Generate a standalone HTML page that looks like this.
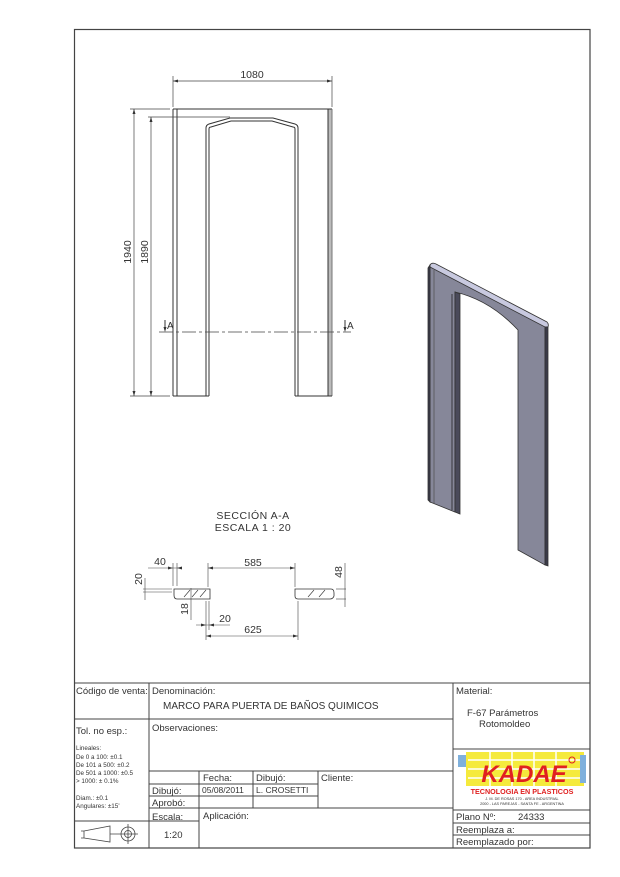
<!DOCTYPE html>
<html><head><meta charset="utf-8"><style>
html,body{margin:0;padding:0;background:#fff}
svg{display:block}
text{font-family:"Liberation Sans",sans-serif;fill:#333}
</style></head><body>
<svg width="620" height="877" viewBox="0 0 620 877" xmlns="http://www.w3.org/2000/svg">
<rect x="0" y="0" width="620" height="877" fill="#fff"/>
<rect x="74.5" y="29.5" width="515.5" height="818.5" fill="none" stroke="#444" stroke-width="1.2"/>

<g stroke="#333" stroke-width="1" fill="none">
 <rect x="328" y="109" width="4" height="287" fill="#bbb" stroke="none"/>
 <line x1="173" y1="109" x2="332" y2="109"/>
 <line x1="173" y1="109" x2="173" y2="396"/>
 <line x1="177" y1="109" x2="177" y2="396"/>
 <line x1="328" y1="109" x2="328" y2="396"/>
 <line x1="332" y1="109" x2="332" y2="396" stroke="#777"/>
 <line x1="173" y1="396" x2="209" y2="396"/>
 <line x1="295" y1="396" x2="332" y2="396"/>
 <path d="M206 396 V128 Q206 125 209 124 L230 118 H273 L295 124 Q298 125 298 128 V396"/>
 <path d="M209 396 V129 Q209 127 211 127 L231 121 H272 L293 127 Q295 127 295 129 V396"/>
</g>
<g stroke="#444" stroke-width="0.7" fill="none">
 <line x1="173" y1="107" x2="173" y2="76"/>
 <line x1="332" y1="107" x2="332" y2="76"/>
 <line x1="173" y1="81" x2="332" y2="81"/>
 <line x1="130" y1="109" x2="170" y2="109"/>
 <line x1="130" y1="396" x2="170" y2="396"/>
 <line x1="134" y1="109" x2="134" y2="396"/>
 <line x1="148" y1="117" x2="230" y2="117"/>
 <line x1="151" y1="117" x2="151" y2="396"/>
 <line x1="159" y1="332" x2="351" y2="332" stroke-dasharray="14,3,3,3"/>
</g>
<g fill="#333">
 <path d="M173 81 l5 -1.5 v3z M332 81 l-5 -1.5 v3z"/>
 <path d="M134 109 l-1.5 5 h3z M134 396 l-1.5 -5 h3z"/>
 <path d="M151 117 l-1.5 5 h3z M151 396 l-1.5 -5 h3z"/>
 <path d="M165 332 l-1.5 -5 h3z"/>
 <path d="M345 332 l-1.5 -5 h3z"/>
</g>
<line x1="165" y1="320" x2="165" y2="330" stroke="#333"/>
<line x1="345" y1="320" x2="345" y2="330" stroke="#333"/>
<text x="252" y="78" font-size="10.5" text-anchor="middle">1080</text>
<text x="167" y="329" font-size="10">A</text>
<text x="347" y="329" font-size="10">A</text>
<text transform="translate(131,252) rotate(-90)" font-size="10.5" text-anchor="middle">1940</text>
<text transform="translate(148,252) rotate(-90)" font-size="10.5" text-anchor="middle">1890</text>

<text x="253" y="519" font-size="10.5" text-anchor="middle" letter-spacing="0.5">SECCIÓN A-A</text>
<text x="253" y="531" font-size="10.5" text-anchor="middle" letter-spacing="0.5">ESCALA 1 : 20</text>
<g stroke="#333" stroke-width="0.8" fill="none">
 <path d="M174 589 H210 V599 H177 Q174 599 174 595 Z"/>
 <path d="M295 589 H331 Q334 589 334 593 V596 Q333 599 330 599 H298 Q295 599 295 596 Z"/>
 <path d="M184 597 l6 -7 M192 597 l6 -7 M200 597 l6 -7 M308 597 l6 -7 M319 597 l6 -7" stroke-width="0.6"/>
</g>
<g stroke="#444" stroke-width="0.6" fill="none">
 <line x1="148" y1="568" x2="180" y2="568"/>
 <line x1="173" y1="563" x2="173" y2="586"/>
 <line x1="177" y1="563" x2="177" y2="586"/>
 <line x1="208" y1="568" x2="295" y2="568"/>
 <line x1="208" y1="563" x2="208" y2="587"/>
 <line x1="295" y1="563" x2="295" y2="587"/>
 <line x1="145" y1="578" x2="145" y2="600"/>
 <line x1="143" y1="589" x2="172" y2="589"/>
 <line x1="143" y1="592" x2="172" y2="592"/>
 <line x1="191" y1="588" x2="191" y2="620"/>
 <line x1="206" y1="601" x2="206" y2="640"/>
 <line x1="209" y1="601" x2="209" y2="630"/>
 <line x1="196" y1="625" x2="230" y2="625"/>
 <line x1="298" y1="601" x2="298" y2="640"/>
 <line x1="206" y1="636" x2="298" y2="636"/>
 <line x1="336" y1="589" x2="346" y2="589"/>
 <line x1="336" y1="599" x2="346" y2="599"/>
 <line x1="345" y1="563" x2="345" y2="607"/>
</g>
<g fill="#333">
 <path d="M173 568 l-5 -1.5 v3z M177 568 l5 -1.5 v3z M208 568 l5 -1.5 v3z M295 568 l-5 -1.5 v3z"/>
 <path d="M206 636 l5 -1.5 v3z M298 636 l-5 -1.5 v3z M206 625 l-5 -1.5 v3z M209 625 l5 -1.5 v3z"/>
</g>
<text x="160" y="565" font-size="10.5" text-anchor="middle">40</text>
<text x="253" y="566" font-size="10.5" text-anchor="middle">585</text>
<text x="225" y="622" font-size="10.5" text-anchor="middle">20</text>
<text x="253" y="633" font-size="10.5" text-anchor="middle">625</text>
<text transform="translate(142,579) rotate(-90)" font-size="10.5" text-anchor="middle">20</text>
<text transform="translate(188,609) rotate(-90)" font-size="10.5" text-anchor="middle">18</text>
<text transform="translate(342,572) rotate(-90)" font-size="10.5" text-anchor="middle">48</text>

<g stroke="#333" stroke-width="0.8">
 <path d="M430 265 L545 325 L545 565 L518 550 L518 330 Q490 300 455 292 L455 512 L430 502 Z" fill="#868799"/>
 <path d="M430 265 Q432 262 436 264 L547 322 Q549 324 548 327 L545 327 L430 267 Z" fill="#c8c9df"/>
 <path d="M545 327 L548 327 L548 566 L545 565 Z" fill="#3a3a48"/>
 <path d="M428 268 L430 265 L430 502 L428 500 Z" fill="#3a3a48"/>
 <path d="M455 292 L460 294 L460 514 L455 512 Z" fill="#4a4a5a"/>
 <line x1="452" y1="294" x2="452" y2="510" stroke="#222"/>
 <line x1="434" y1="270" x2="434" y2="503" stroke="#555"/>
</g>

<g stroke="#444" stroke-width="1" fill="none">
 <line x1="74" y1="683" x2="590" y2="683"/>
 <line x1="149" y1="683" x2="149" y2="848"/>
 <line x1="453" y1="683" x2="453" y2="848"/>
 <line x1="74" y1="719" x2="453" y2="719"/>
 <line x1="453" y1="749" x2="590" y2="749"/>
 <line x1="453" y1="810" x2="590" y2="810"/>
 <line x1="453" y1="823" x2="590" y2="823"/>
 <line x1="453" y1="835" x2="590" y2="835"/>
 <line x1="149" y1="771" x2="453" y2="771"/>
 <line x1="149" y1="784" x2="318" y2="784"/>
 <line x1="149" y1="796" x2="318" y2="796"/>
 <line x1="149" y1="808" x2="453" y2="808"/>
 <line x1="74" y1="821" x2="199" y2="821"/>
 <line x1="199" y1="771" x2="199" y2="848"/>
 <line x1="253" y1="771" x2="253" y2="808"/>
 <line x1="318" y1="771" x2="318" y2="808"/>
 <path d="M81 831 H84 L110 826 V842 L84 838 H81 M84 831 V838 M110 834 H118" stroke-width="0.8"/>
 <circle cx="128" cy="834" r="7" stroke-width="0.8"/>
 <circle cx="128" cy="834" r="3.5" stroke-width="0.8"/>
 <path d="M118 834 H138 M128 824 V844" stroke-width="0.8"/>
</g>
<g font-size="9.5">
 <text x="76" y="694">Código de venta:</text>
 <text x="152" y="694">Denominación:</text>
 <text x="163" y="709" font-size="10">MARCO PARA PUERTA DE BAÑOS QUIMICOS</text>
 <text x="456" y="694">Material:</text>
 <text x="467" y="716">F-67 Parámetros</text>
 <text x="479" y="727">Rotomoldeo</text>
 <text x="76" y="734">Tol. no esp.:</text>
 <text x="152" y="731">Observaciones:</text>
 <text x="203" y="781">Fecha:</text>
 <text x="256" y="781">Dibujó:</text>
 <text x="321" y="781">Cliente:</text>
 <text x="152" y="794">Dibujó:</text>
 <text x="202" y="793" font-size="8.5">05/08/2011</text>
 <text x="256" y="793" font-size="8.5">L. CROSETTI</text>
 <text x="152" y="806">Aprobó:</text>
 <text x="152" y="820">Escala:</text>
 <text x="203" y="819">Aplicación:</text>
 <text x="164" y="838">1:20</text>
 <text x="456" y="820">Plano Nº:</text>
 <text x="518" y="820">24333</text>
 <text x="456" y="833">Reemplaza a:</text>
 <text x="456" y="845">Reemplazado por:</text>
</g>
<g font-size="6.3">
 <text x="76" y="750">Lineales:</text>
 <text x="76" y="759">De 0 a 100: ±0.1</text>
 <text x="76" y="767">De 101 a 500: ±0.2</text>
 <text x="76" y="775">De 501 a 1000: ±0.5</text>
 <text x="76" y="783">&gt; 1000: ± 0.1%</text>
 <text x="76" y="800">Diam.: ±0.1</text>
 <text x="76" y="808">Angulares: ±15'</text>
</g>
<rect x="466" y="752" width="118" height="34" fill="#f5ea3c"/>
<path d="M468 760 H582 M468 769 H582 M468 778 H582 M490 752 V786 M512 752 V786 M534 752 V786 M556 752 V786" stroke="#fff" stroke-width="1.5"/>
<rect x="458" y="755" width="8" height="12" fill="#7fb0dc"/>
<rect x="580" y="755" width="6" height="28" fill="#7fb0dc"/>
<text x="524" y="782" font-size="24" font-weight="bold" font-style="italic" text-anchor="middle" style="fill:#e02020">KADAE</text>
<circle cx="572" cy="760" r="3" fill="none" stroke="#e02020"/>
<text x="522" y="794" font-size="7.2" font-weight="bold" text-anchor="middle" style="fill:#e02020">TECNOLOGIA EN PLASTICOS</text>
<text x="522" y="800" font-size="3.8" text-anchor="middle">J. M. DE ROSAS 170 - AREA INDUSTRIAL</text>
<text x="522" y="805" font-size="3.8" text-anchor="middle">2000 - LAS PAREJAS - SANTA FE - ARGENTINA</text>
</svg>
</body></html>
